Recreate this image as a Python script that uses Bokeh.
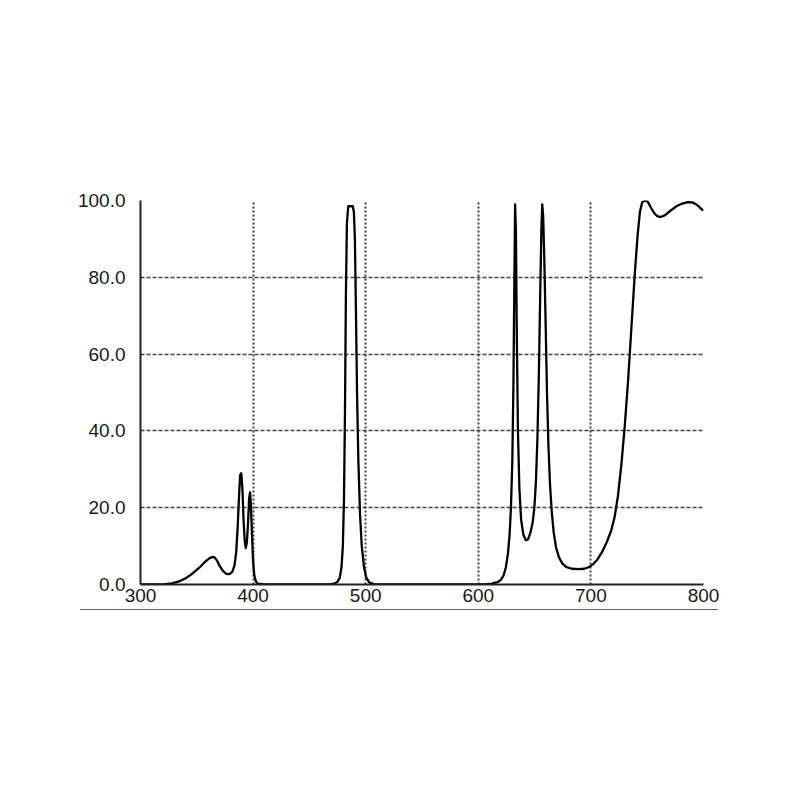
from bokeh.plotting import figure
from bokeh.models import FixedTicker, PrintfTickFormatter, Range1d, Div
from bokeh.layouts import column
from bokeh.embed import file_html
from bokeh.resources import INLINE

# Transmission spectrum (wavelength nm, transmission %)
wavelength = [300, 320, 328, 334, 340, 346, 352, 357, 361, 364, 366, 368, 370, 373, 376, 379,
              381.5, 383.5, 385, 386.3, 387.5, 388.5, 389.5, 390.5, 391.5, 392.5, 393.5,
              394.5, 395.5, 396.5, 397.3, 398, 399, 400, 401, 402.5, 404, 410,
              468, 472, 475, 477, 478.5, 479.7, 480.7, 481.6, 482.4, 483.3, 484.5, 488.5,
              489.5, 490.4, 491.3, 492.3, 493.5, 495, 496.5, 498.5, 500.5, 503, 507, 512,
              605, 612, 617, 620, 622.5, 624.5, 626.3, 627.8, 629, 630.2, 631.2, 632, 632.7,
              633.4, 634.2, 635.2, 636.5, 638, 640, 642.2, 644.3, 646.3, 648.2, 649.8,
              651.2, 652.5, 653.8, 655, 656, 656.8, 657.6, 658.6, 659.8, 661, 662.3, 663.7,
              665.2, 667, 669, 671.5, 674.5, 678, 683, 689, 694, 698, 702, 706, 710, 714,
              718, 721, 724, 727, 730, 733, 736, 739, 741.5, 743.5, 745.5, 748, 750.5, 753,
              756, 759, 762, 766, 771, 776, 781, 786, 790, 793, 796, 798, 800]
transmission = [0, 0, 0.3, 0.8, 1.6, 2.8, 4.3, 5.8, 6.8, 7.2, 7.0, 6.2, 5.0, 3.6, 2.8, 2.7,
                3.3, 5.0, 8.5, 15, 23, 28.5, 29, 25, 17, 11.5, 9.5,
                11, 16, 22.5, 24, 21, 13, 6, 2.5, 0.8, 0.2, 0,
                0, 0.2, 0.7, 1.8, 4.5, 10, 22, 45, 75, 94, 98.5, 98.5,
                97, 90, 72, 50, 32, 18, 10, 4.5, 1.8, 0.6, 0.1, 0,
                0, 0.2, 0.6, 1.2, 2.4, 4.5, 8, 13, 20, 32, 52, 78, 99,
                92, 65, 40, 25, 17, 13, 11.5, 11.8, 13.5, 16, 20,
                27, 38, 55, 76, 92, 99, 96, 85, 68, 50, 36, 26,
                19, 13.5, 9.7, 7.2, 5.5, 4.6, 4.1, 4.0, 4.1, 4.5, 5.3, 6.6, 8.5, 11,
                14, 17.5, 23, 31, 41, 53, 67, 81, 91, 97, 99.5, 100, 99.7, 98.3,
                96.8, 95.9, 95.7, 96.2, 97.4, 98.5, 99.2, 99.6, 99.5, 99.1, 98.4, 97.8, 97.4]

x_ticks = [300, 400, 500, 600, 700, 800]
y_ticks = [0, 20, 40, 60, 80, 100]

p = figure(output_backend="svg", toolbar_location=None,
           frame_width=563, frame_height=384,
           min_border_left=140, min_border_right=30,
           min_border_top=200, min_border_bottom=19,
           x_range=Range1d(300, 800), y_range=Range1d(0, 100))

p.line(wavelength, transmission, line_color="black", line_width=2.3, line_join="round")

p.outline_line_color = None
p.background_fill_color = "white"
p.border_fill_color = "white"

p.xaxis.ticker = FixedTicker(ticks=x_ticks)
p.yaxis.ticker = FixedTicker(ticks=y_ticks)
p.yaxis.formatter = PrintfTickFormatter(format="%.1f")

for ax in (p.xaxis[0], p.yaxis[0]):
    ax.major_tick_line_color = None
    ax.minor_tick_line_color = None
    ax.axis_line_color = "#222222"
    ax.axis_line_width = 2
    ax.major_label_text_font = "Liberation Sans"
    ax.major_label_text_font_size = "19px"
    ax.major_label_text_color = "#1a1a1a"

p.xaxis.major_label_standoff = -2
p.yaxis.major_label_standoff = 9

p.xgrid.grid_line_color = "#222222"
p.xgrid.grid_line_dash = "2 2"
p.xgrid.grid_line_width = 2
p.xgrid.grid_line_alpha = 0.85
p.ygrid.grid_line_color = "#222222"
p.ygrid.grid_line_dash = "4 2"
p.ygrid.grid_line_width = 1.6
p.ygrid.grid_line_alpha = 0.85

rule = Div(text="", width=638, height=3,
           styles={"margin-left": "80px", "border-top": "1px solid #666666"})

layout = column(p, rule, spacing=0)

open("out.html", "w").write(file_html(layout, INLINE))
